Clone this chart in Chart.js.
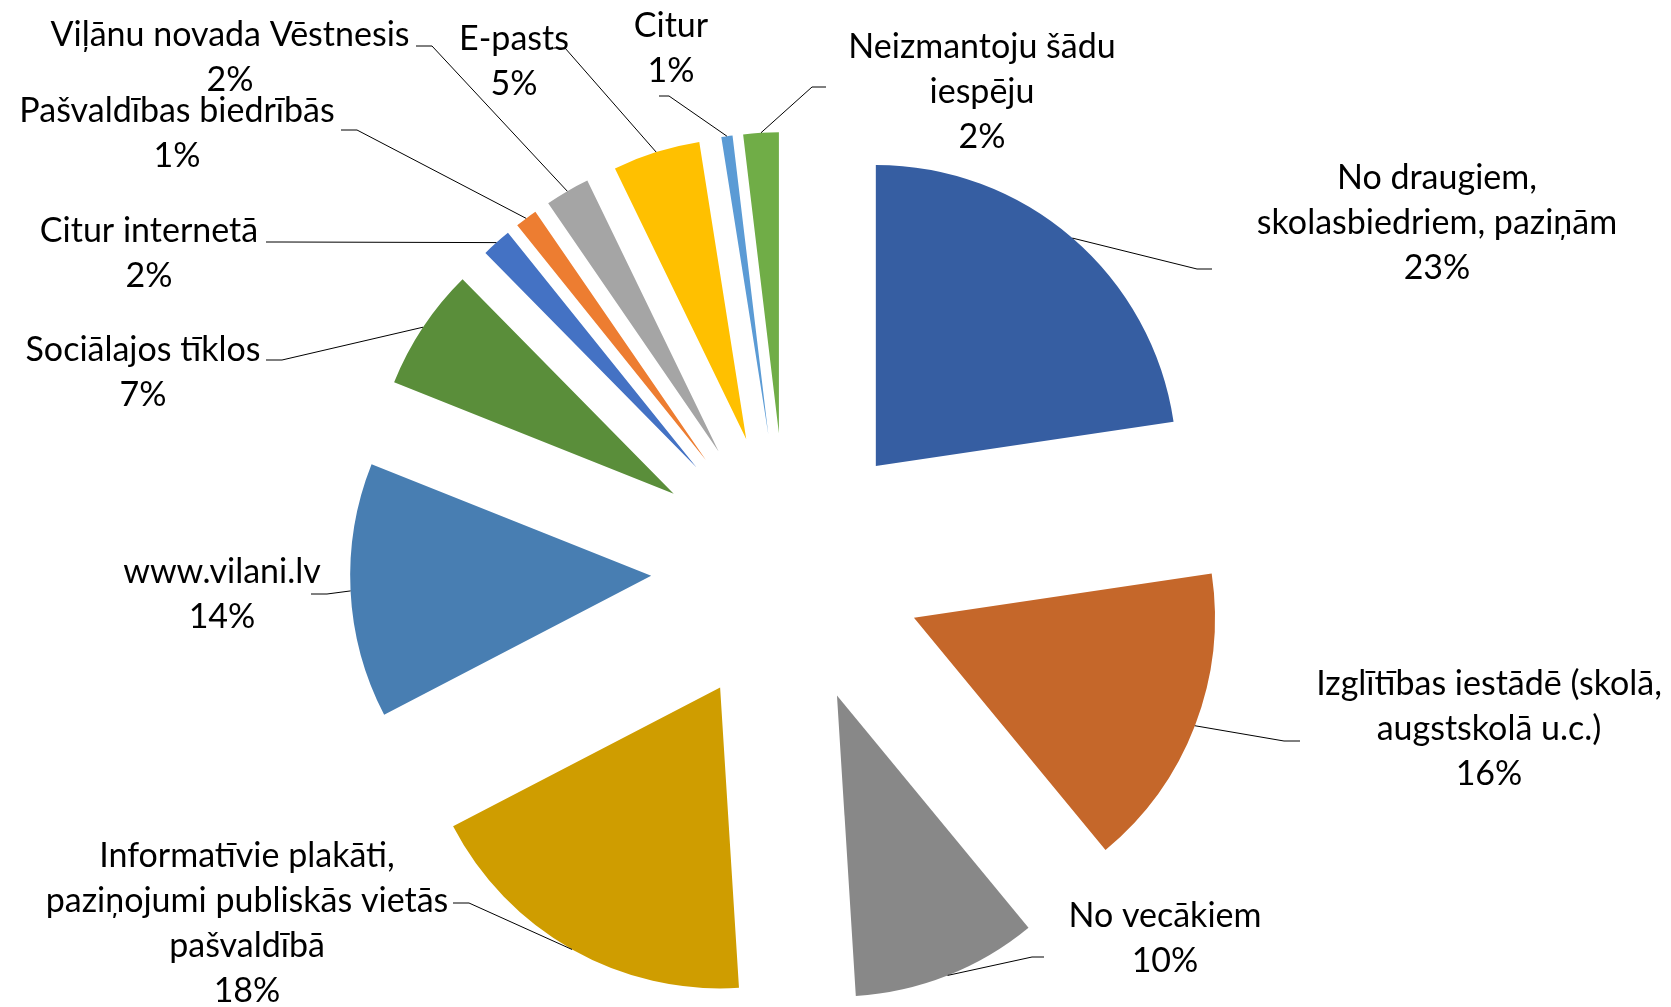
<!DOCTYPE html>
<html>
<head>
<meta charset="utf-8">
<title>Informācijas avoti</title>
<script src="https://cdn.jsdelivr.net/npm/chart.js@4.4.1/dist/chart.umd.min.js"></script>
<style>
  html, body { margin: 0; padding: 0; background: #fff; }
  canvas { display: block; }
</style>
</head>
<body>
<canvas id="pieChart" width="1671" height="1007"></canvas>
<script>
// Categories, clockwise from 12 o'clock
const categories = [
  'No draugiem, skolasbiedriem, paziņām',
  'Izglītības iestādē (skolā, augstskolā u.c.)',
  'No vecākiem',
  'Informatīvie plakāti, paziņojumi publiskās vietās pašvaldībā',
  'www.vilani.lv',
  'Sociālajos tīklos',
  'Citur internetā',
  'Pašvaldības biedrībās',
  'Viļānu novada Vēstnesis',
  'E-pasts',
  'Citur',
  'Neizmantoju šādu iespēju'
];

// how each category label wraps on the chart
const labelLines = [
  ['No draugiem,', 'skolasbiedriem, paziņām'],
  ['Izglītības iestādē (skolā,', 'augstskolā u.c.)'],
  ['No vecākiem'],
  ['Informatīvie plakāti,', 'paziņojumi publiskās vietās', 'pašvaldībā'],
  ['www.vilani.lv'],
  ['Sociālajos tīklos'],
  ['Citur internetā'],
  ['Pašvaldības biedrībās'],
  ['Viļānu novada Vēstnesis'],
  ['E-pasts'],
  ['Citur'],
  ['Neizmantoju šādu', 'iespēju']
];

// share of answers, %
const shares = [22.7, 16.4, 10.0, 18.4, 13.7, 6.6, 1.6, 1.2, 2.4, 4.7, 0.6, 1.9];

const colors = [
  '#365EA2', '#C5672A', '#888888', '#CF9D00', '#487EB2', '#5A8E3A',
  '#4472C4', '#ED7D31', '#A5A5A5', '#FFC000', '#5B9BD5', '#70AD47'
];

// layout of the data labels: text centre (first line) and leader stub
const labelLayout = [
  { x: 1437, y: 178, stub: [[1212, 269], [1197, 269]] },
  { x: 1489, y: 684, stub: [[1300, 741], [1284, 741]] },
  { x: 1165, y: 916, stub: [[1044, 957], [1032, 957]] },
  { x: 247,  y: 856, stub: [[453, 903], [469, 903]] },
  { x: 222,  y: 572, stub: [[311, 594], [327, 594]] },
  { x: 143,  y: 350, stub: [[266, 360], [282, 360]] },
  { x: 149,  y: 231, stub: [[266, 242], [282, 242]] },
  { x: 177,  y: 111, stub: [[341, 130], [357, 130]] },
  { x: 230,  y: 35,  stub: [[416, 46], [432, 46]] },
  { x: 514,  y: 39,  stub: [[554, 48], [565, 48]] },
  { x: 671,  y: 26,  stub: [[659, 96], [669, 96]] },
  { x: 982,  y: 47,  stub: [[826, 87], [812, 87]] }
];

const EXPLODE = 136;      // distance every slice is pulled out
const PIE_RADIUS = 301;
const LINE_HEIGHT = 45;
const FONT = '34px Lato, "Noto Sans", sans-serif';

// pull every slice out by the same distance (Chart.js offset is not uniform)
const explodePlugin = {
  id: 'explode',
  beforeDatasetDraw(chart, args) {
    const ctx = chart.ctx;
    args.meta.data.forEach(arc => {
      const mid = (arc.startAngle + arc.endAngle) / 2;
      ctx.save();
      ctx.translate(Math.cos(mid) * EXPLODE, Math.sin(mid) * EXPLODE);
      arc.draw(ctx);
      ctx.restore();
    });
    return false;
  }
};

const labelPlugin = {
  id: 'sliceLabels',
  afterDraw(chart) {
    const ctx = chart.ctx;
    const meta = chart.getDatasetMeta(0);
    const total = shares.reduce((a, b) => a + b, 0);
    ctx.save();
    meta.data.forEach((arc, i) => {
      const layout = labelLayout[i];
      const mid = (arc.startAngle + arc.endAngle) / 2;
      const r = arc.outerRadius + EXPLODE;
      const ex = arc.x + Math.cos(mid) * r;
      const ey = arc.y + Math.sin(mid) * r;

      // leader line
      ctx.strokeStyle = '#000';
      ctx.lineWidth = 1;
      ctx.beginPath();
      ctx.moveTo(layout.stub[0][0], layout.stub[0][1]);
      ctx.lineTo(layout.stub[1][0], layout.stub[1][1]);
      ctx.lineTo(ex, ey);
      ctx.stroke();

      // text
      const lines = labelLines[i].concat([Math.round(shares[i] / total * 100) + '%']);
      ctx.fillStyle = '#000';
      ctx.font = FONT;
      ctx.textAlign = 'center';
      ctx.textBaseline = 'middle';
      lines.forEach((t, k) => ctx.fillText(t, layout.x, layout.y + k * LINE_HEIGHT));
    });
    ctx.restore();
  }
};

const ctx = document.getElementById('pieChart').getContext('2d');
new Chart(ctx, {
  type: 'pie',
  data: {
    labels: categories,
    datasets: [{
      data: shares,
      backgroundColor: colors,
      borderWidth: 0,
      radius: PIE_RADIUS
    }]
  },
  options: {
    responsive: false,
    animation: false,
    events: [],
    layout: { padding: { left: 0, right: 97, top: 131, bottom: 0 } },
    plugins: {
      legend: { display: false },
      tooltip: { enabled: false }
    }
  },
  plugins: [explodePlugin, labelPlugin]
});
</script>
</body>
</html>
